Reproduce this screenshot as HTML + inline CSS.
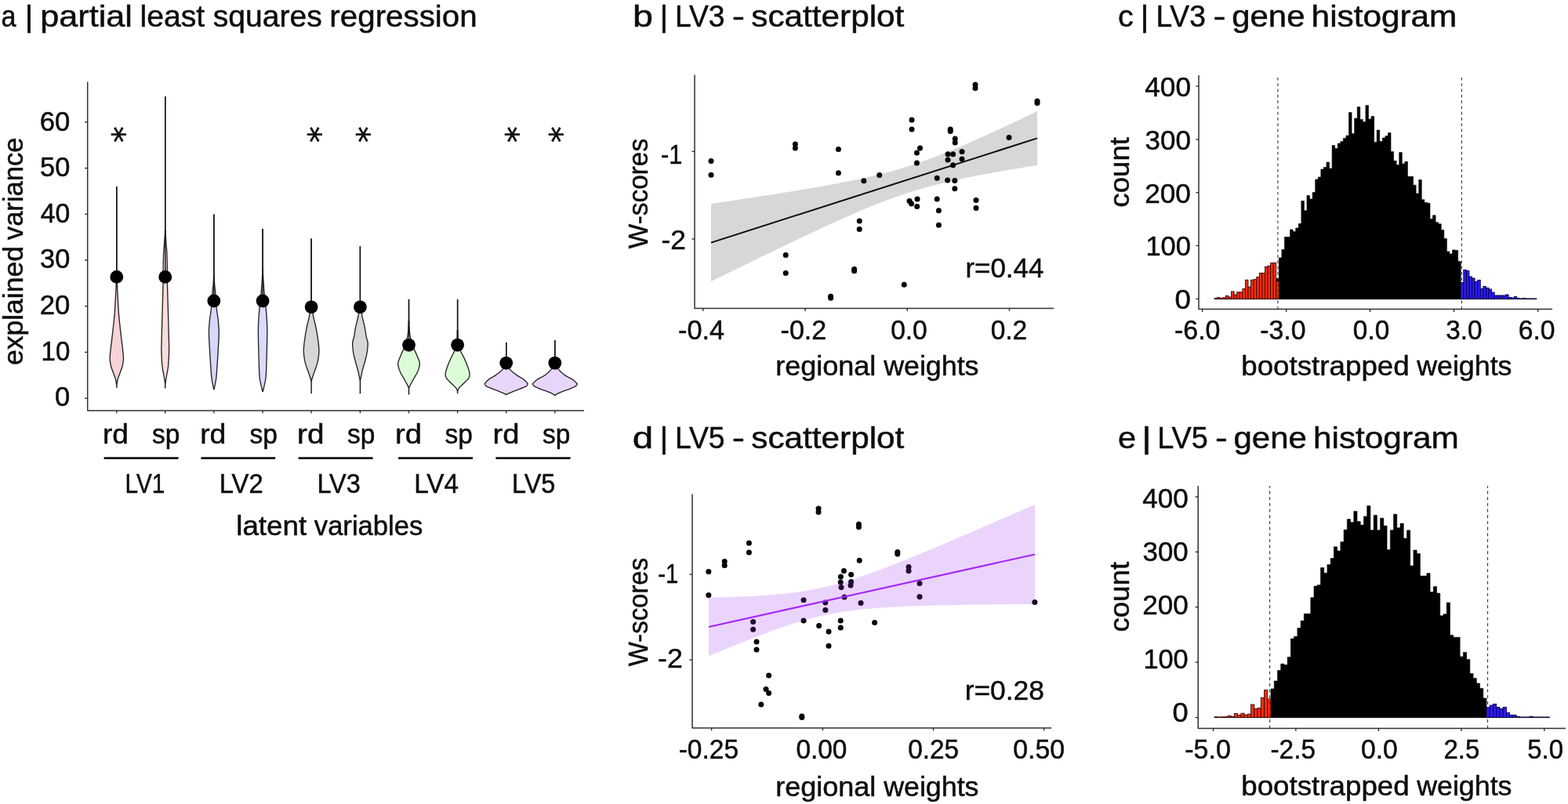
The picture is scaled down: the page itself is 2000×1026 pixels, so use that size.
<!DOCTYPE html>
<html lang="en"><head><meta charset="utf-8"><title>PLS regression figure</title>
<style>
html,body{margin:0;padding:0;background:#fff;}
body{width:2000px;height:1026px;overflow:hidden;font-family:"Liberation Sans",sans-serif;}
svg{display:block;}
text{white-space:pre;}
</style></head><body>
<svg width="2000" height="1026" viewBox="0 0 2000 1026">
<rect x="0" y="0" width="2000" height="1026" fill="#ffffff"/>
<text y="34.40" font-family="'Liberation Sans', sans-serif" font-size="39.0" fill="#0d0d0d" stroke="#0d0d0d" stroke-width="0.5"><tspan x="1.53" textLength="19.01" lengthAdjust="spacingAndGlyphs">a</tspan> <tspan x="31.47" textLength="11.04" lengthAdjust="spacingAndGlyphs">|</tspan> <tspan x="51.19" textLength="117.78" lengthAdjust="spacingAndGlyphs">partial</tspan> <tspan x="178.45" textLength="82.84" lengthAdjust="spacingAndGlyphs">least</tspan> <tspan x="271.83" textLength="139.05" lengthAdjust="spacingAndGlyphs">squares</tspan> <tspan x="420.38" textLength="188.21" lengthAdjust="spacingAndGlyphs">regression</tspan></text>
<text y="34.40" font-family="'Liberation Sans', sans-serif" font-size="39.0" fill="#0d0d0d" stroke="#0d0d0d" stroke-width="0.5"><tspan x="806.97" textLength="25.95" lengthAdjust="spacingAndGlyphs">b</tspan> <tspan x="841.59" textLength="10.72" lengthAdjust="spacingAndGlyphs">|</tspan> <tspan x="861.02" textLength="63.47" lengthAdjust="spacingAndGlyphs">LV3</tspan> <tspan x="933.80" textLength="16.31" lengthAdjust="spacingAndGlyphs">-</tspan> <tspan x="958.33" textLength="195.02" lengthAdjust="spacingAndGlyphs">scatterplot</tspan></text>
<text y="34.40" font-family="'Liberation Sans', sans-serif" font-size="39.0" fill="#0d0d0d" stroke="#0d0d0d" stroke-width="0.5"><tspan x="1426.02" textLength="19.77" lengthAdjust="spacingAndGlyphs">c</tspan> <tspan x="1454.47" textLength="11.04" lengthAdjust="spacingAndGlyphs">|</tspan> <tspan x="1474.42" textLength="63.47" lengthAdjust="spacingAndGlyphs">LV3</tspan> <tspan x="1547.63" textLength="16.04" lengthAdjust="spacingAndGlyphs">-</tspan> <tspan x="1571.22" textLength="93.25" lengthAdjust="spacingAndGlyphs">gene</tspan> <tspan x="1672.64" textLength="185.73" lengthAdjust="spacingAndGlyphs">histogram</tspan></text>
<text y="572.40" font-family="'Liberation Sans', sans-serif" font-size="39.0" fill="#0d0d0d" stroke="#0d0d0d" stroke-width="0.5"><tspan x="806.70" textLength="26.45" lengthAdjust="spacingAndGlyphs">d</tspan> <tspan x="841.59" textLength="10.72" lengthAdjust="spacingAndGlyphs">|</tspan> <tspan x="861.02" textLength="63.47" lengthAdjust="spacingAndGlyphs">LV5</tspan> <tspan x="933.80" textLength="16.31" lengthAdjust="spacingAndGlyphs">-</tspan> <tspan x="958.33" textLength="195.02" lengthAdjust="spacingAndGlyphs">scatterplot</tspan></text>
<text y="572.40" font-family="'Liberation Sans', sans-serif" font-size="39.0" fill="#0d0d0d" stroke="#0d0d0d" stroke-width="0.5"><tspan x="1425.94" textLength="23.08" lengthAdjust="spacingAndGlyphs">e</tspan> <tspan x="1456.32" textLength="12.34" lengthAdjust="spacingAndGlyphs">|</tspan> <tspan x="1476.27" textLength="64.55" lengthAdjust="spacingAndGlyphs">LV5</tspan> <tspan x="1550.05" textLength="15.90" lengthAdjust="spacingAndGlyphs">-</tspan> <tspan x="1573.52" textLength="93.35" lengthAdjust="spacingAndGlyphs">gene</tspan> <tspan x="1674.94" textLength="185.84" lengthAdjust="spacingAndGlyphs">histogram</tspan></text>
<path d="M111.70,104.60 L111.70,523.90 L745.00,523.90" fill="none" stroke="#303030" stroke-width="1.5" stroke-linejoin="round"/>
<line x1="108.10" y1="508.20" x2="111.70" y2="508.20" stroke="#262626" stroke-width="1.3" />
<text transform="translate(71.40,518.20) scale(0.9742,1.0000) translate(-1.42,0)" font-family="'Liberation Sans', sans-serif" font-size="35.5" fill="#0d0d0d" stroke="#0d0d0d" stroke-width="0.5">0</text>
<line x1="108.10" y1="449.47" x2="111.70" y2="449.47" stroke="#262626" stroke-width="1.3" />
<text transform="translate(55.00,459.62) scale(0.9296,1.0000) translate(-2.66,0)" font-family="'Liberation Sans', sans-serif" font-size="35.5" fill="#0d0d0d" stroke="#0d0d0d" stroke-width="0.5">10</text>
<line x1="108.10" y1="390.74" x2="111.70" y2="390.74" stroke="#262626" stroke-width="1.3" />
<text transform="translate(52.40,401.04) scale(0.9784,1.0000) translate(-1.78,0)" font-family="'Liberation Sans', sans-serif" font-size="35.5" fill="#0d0d0d" stroke="#0d0d0d" stroke-width="0.5">20</text>
<line x1="108.10" y1="332.01" x2="111.70" y2="332.01" stroke="#262626" stroke-width="1.3" />
<text transform="translate(52.40,342.46) scale(0.9689,1.0000) translate(-1.42,0)" font-family="'Liberation Sans', sans-serif" font-size="35.5" fill="#0d0d0d" stroke="#0d0d0d" stroke-width="0.5">30</text>
<line x1="108.10" y1="273.28" x2="111.70" y2="273.28" stroke="#262626" stroke-width="1.3" />
<text transform="translate(52.40,283.88) scale(0.9505,1.0000) translate(-0.71,0)" font-family="'Liberation Sans', sans-serif" font-size="35.5" fill="#0d0d0d" stroke="#0d0d0d" stroke-width="0.5">40</text>
<line x1="108.10" y1="214.55" x2="111.70" y2="214.55" stroke="#262626" stroke-width="1.3" />
<text transform="translate(52.40,225.30) scale(0.9689,1.0000) translate(-1.42,0)" font-family="'Liberation Sans', sans-serif" font-size="35.5" fill="#0d0d0d" stroke="#0d0d0d" stroke-width="0.5">50</text>
<line x1="108.10" y1="155.82" x2="111.70" y2="155.82" stroke="#262626" stroke-width="1.3" />
<text transform="translate(52.40,166.72) scale(0.9784,1.0000) translate(-1.78,0)" font-family="'Liberation Sans', sans-serif" font-size="35.5" fill="#0d0d0d" stroke="#0d0d0d" stroke-width="0.5">60</text>
<text transform="translate(29.40,0) rotate(-90)" y="0" font-family="'Liberation Sans', sans-serif" font-size="34.4" fill="#0d0d0d" stroke="#0d0d0d" stroke-width="0.5"><tspan x="-465.92" textLength="151.77" lengthAdjust="spacingAndGlyphs">explained</tspan> <tspan x="-306.17" textLength="130.73" lengthAdjust="spacingAndGlyphs">variance</tspan></text>
<line x1="148.80" y1="238.00" x2="148.80" y2="495.00" stroke="#111" stroke-width="1.4" />
<path d="M148.50,356.32 L148.50,356.82 L148.50,357.39 L148.50,358.12 L148.48,359.14 L148.39,360.55 L148.27,362.46 L148.13,365.04 L147.97,368.24 L147.79,371.83 L147.59,375.58 L147.40,379.26 L147.22,382.63 L147.05,385.71 L146.90,388.67 L146.74,391.57 L146.57,394.42 L146.38,397.28 L146.17,400.18 L145.92,403.10 L145.65,406.02 L145.35,408.95 L145.04,411.87 L144.73,414.80 L144.41,417.72 L144.09,420.68 L143.75,423.70 L143.40,426.71 L143.05,429.68 L142.72,432.54 L142.40,435.26 L142.09,437.87 L141.77,440.40 L141.47,442.83 L141.19,445.14 L140.94,447.30 L140.73,449.30 L140.56,451.06 L140.40,452.61 L140.29,454.01 L140.21,455.34 L140.18,456.67 L140.20,458.07 L140.29,459.53 L140.42,460.99 L140.60,462.46 L140.83,463.92 L141.11,465.38 L141.43,466.84 L141.83,468.32 L142.31,469.83 L142.84,471.34 L143.38,472.82 L143.92,474.25 L144.41,475.61 L144.89,476.91 L145.37,478.15 L145.84,479.34 L146.29,480.49 L146.70,481.58 L147.05,482.63 L147.33,483.64 L147.56,484.61 L147.75,485.54 L147.91,486.40 L148.05,487.19 L148.19,487.89 L148.30,488.52 L148.40,489.06 L148.48,489.54 L148.50,489.94 L148.50,490.27 L148.62,490.53 L148.98,490.53 L149.10,490.27 L149.10,489.94 L149.12,489.54 L149.20,489.06 L149.30,488.52 L149.41,487.89 L149.55,487.19 L149.69,486.40 L149.85,485.54 L150.04,484.61 L150.27,483.64 L150.55,482.63 L150.90,481.58 L151.31,480.49 L151.76,479.34 L152.23,478.15 L152.71,476.91 L153.19,475.61 L153.68,474.25 L154.22,472.82 L154.76,471.34 L155.29,469.83 L155.77,468.32 L156.17,466.84 L156.49,465.38 L156.77,463.92 L157.00,462.46 L157.18,460.99 L157.31,459.53 L157.40,458.07 L157.42,456.67 L157.39,455.34 L157.31,454.01 L157.20,452.61 L157.04,451.06 L156.87,449.30 L156.66,447.30 L156.41,445.14 L156.13,442.83 L155.83,440.40 L155.51,437.87 L155.20,435.26 L154.88,432.54 L154.55,429.68 L154.20,426.71 L153.85,423.70 L153.51,420.68 L153.19,417.72 L152.87,414.80 L152.56,411.87 L152.25,408.95 L151.95,406.02 L151.68,403.10 L151.43,400.18 L151.22,397.28 L151.03,394.42 L150.86,391.57 L150.70,388.67 L150.55,385.71 L150.38,382.63 L150.20,379.26 L150.01,375.58 L149.81,371.83 L149.63,368.24 L149.47,365.04 L149.33,362.46 L149.21,360.55 L149.12,359.14 L149.10,358.12 L149.10,357.39 L149.10,356.82 L149.10,356.32 Z" fill="#f5d3d6" stroke="#262222" stroke-width="1.35" stroke-linejoin="round"/>
<line x1="148.80" y1="238.00" x2="148.80" y2="353.40" stroke="#111" stroke-width="1.4" />
<circle cx="148.80" cy="353.40" r="8.4" fill="#000"/>
<line x1="148.80" y1="523.90" x2="148.80" y2="527.40" stroke="#262626" stroke-width="1.3" />
<line x1="210.75" y1="123.00" x2="210.75" y2="495.50" stroke="#111" stroke-width="1.4" />
<path d="M210.45,294.91 L210.45,296.44 L210.42,298.55 L210.25,301.05 L210.06,303.75 L209.87,306.45 L209.70,308.95 L209.52,311.25 L209.33,313.50 L209.14,315.75 L208.95,318.04 L208.79,320.44 L208.64,322.98 L208.53,325.65 L208.44,328.41 L208.37,331.26 L208.31,334.22 L208.26,337.31 L208.21,340.53 L208.17,343.74 L208.16,346.93 L208.16,350.23 L208.14,353.81 L208.11,357.84 L208.03,362.46 L207.90,367.86 L207.74,373.96 L207.55,380.49 L207.35,387.21 L207.15,393.86 L206.98,400.18 L206.81,406.42 L206.65,412.85 L206.48,419.20 L206.33,425.22 L206.20,430.66 L206.10,435.26 L206.02,438.78 L205.95,441.37 L205.90,443.38 L205.87,445.14 L205.88,447.00 L205.93,449.30 L206.01,452.10 L206.13,455.15 L206.29,458.29 L206.47,461.38 L206.67,464.28 L206.89,466.84 L207.14,469.04 L207.44,471.00 L207.75,472.76 L208.07,474.38 L208.37,475.90 L208.64,477.37 L208.89,478.77 L209.11,480.06 L209.32,481.26 L209.52,482.37 L209.70,483.41 L209.87,484.39 L210.03,485.32 L210.17,486.21 L210.30,487.02 L210.41,487.73 L210.45,488.33 L210.57,488.77 L210.93,488.77 L211.05,488.33 L211.09,487.73 L211.20,487.02 L211.33,486.21 L211.47,485.32 L211.63,484.39 L211.80,483.41 L211.98,482.37 L212.18,481.26 L212.39,480.06 L212.61,478.77 L212.86,477.37 L213.13,475.90 L213.43,474.38 L213.75,472.76 L214.06,471.00 L214.36,469.04 L214.61,466.84 L214.83,464.28 L215.03,461.38 L215.21,458.29 L215.37,455.15 L215.49,452.10 L215.57,449.30 L215.62,447.00 L215.63,445.14 L215.60,443.38 L215.55,441.37 L215.48,438.78 L215.40,435.26 L215.30,430.66 L215.17,425.22 L215.02,419.20 L214.85,412.85 L214.69,406.42 L214.52,400.18 L214.35,393.86 L214.15,387.21 L213.95,380.49 L213.76,373.96 L213.60,367.86 L213.47,362.46 L213.39,357.84 L213.36,353.81 L213.34,350.23 L213.34,346.93 L213.33,343.74 L213.29,340.53 L213.24,337.31 L213.19,334.22 L213.13,331.26 L213.06,328.41 L212.97,325.65 L212.86,322.98 L212.71,320.44 L212.55,318.04 L212.36,315.75 L212.17,313.50 L211.98,311.25 L211.80,308.95 L211.63,306.45 L211.44,303.75 L211.25,301.05 L211.08,298.55 L211.05,296.44 L211.05,294.91 Z" fill="#f9dcdc" stroke="#262222" stroke-width="1.35" stroke-linejoin="round"/>
<line x1="210.75" y1="123.00" x2="210.75" y2="353.40" stroke="#111" stroke-width="1.4" />
<circle cx="210.75" cy="353.40" r="8.4" fill="#000"/>
<line x1="210.75" y1="523.90" x2="210.75" y2="527.40" stroke="#262626" stroke-width="1.3" />
<line x1="272.85" y1="273.60" x2="272.85" y2="497.20" stroke="#111" stroke-width="1.4" />
<path d="M272.55,351.05 L272.55,352.18 L272.55,353.72 L272.53,355.55 L272.42,357.55 L272.29,359.60 L272.15,361.58 L271.98,363.44 L271.79,365.28 L271.58,367.17 L271.37,369.18 L271.14,371.39 L270.92,373.86 L270.70,376.71 L270.49,379.90 L270.27,383.29 L270.04,386.73 L269.79,390.06 L269.52,393.16 L269.19,395.99 L268.82,398.68 L268.44,401.27 L268.05,403.81 L267.70,406.36 L267.41,408.95 L267.16,411.54 L266.94,414.08 L266.74,416.62 L266.59,419.21 L266.49,421.90 L266.45,424.74 L266.48,427.77 L266.60,430.97 L266.76,434.28 L266.95,437.60 L267.15,440.88 L267.32,444.04 L267.49,447.06 L267.66,450.01 L267.83,452.92 L268.01,455.80 L268.19,458.68 L268.38,461.58 L268.57,464.60 L268.77,467.75 L268.98,470.90 L269.19,473.92 L269.40,476.71 L269.60,479.12 L269.80,481.09 L269.99,482.70 L270.18,484.06 L270.38,485.30 L270.59,486.53 L270.83,487.89 L271.13,489.46 L271.47,491.14 L271.83,492.83 L272.17,494.39 L272.47,495.71 L272.67,496.67 L273.03,496.67 L273.23,495.71 L273.53,494.39 L273.87,492.83 L274.23,491.14 L274.57,489.46 L274.87,487.89 L275.11,486.53 L275.32,485.30 L275.52,484.06 L275.71,482.70 L275.90,481.09 L276.10,479.12 L276.30,476.71 L276.51,473.92 L276.72,470.90 L276.93,467.75 L277.13,464.60 L277.32,461.58 L277.51,458.68 L277.69,455.80 L277.87,452.92 L278.04,450.01 L278.21,447.06 L278.38,444.04 L278.55,440.88 L278.75,437.60 L278.94,434.28 L279.10,430.97 L279.22,427.77 L279.25,424.74 L279.21,421.90 L279.11,419.21 L278.96,416.62 L278.76,414.08 L278.54,411.54 L278.29,408.95 L278.00,406.36 L277.65,403.81 L277.26,401.27 L276.88,398.68 L276.51,395.99 L276.18,393.16 L275.91,390.06 L275.66,386.73 L275.43,383.29 L275.21,379.90 L275.00,376.71 L274.78,373.86 L274.56,371.39 L274.33,369.18 L274.12,367.17 L273.91,365.28 L273.72,363.44 L273.55,361.58 L273.41,359.60 L273.28,357.55 L273.17,355.55 L273.15,353.72 L273.15,352.18 L273.15,351.05 Z" fill="#d6d8fc" stroke="#262222" stroke-width="1.35" stroke-linejoin="round"/>
<line x1="272.85" y1="273.60" x2="272.85" y2="384.00" stroke="#111" stroke-width="1.4" />
<circle cx="272.85" cy="384.00" r="8.4" fill="#000"/>
<line x1="272.85" y1="523.90" x2="272.85" y2="527.40" stroke="#262626" stroke-width="1.3" />
<line x1="335.10" y1="292.00" x2="335.10" y2="500.00" stroke="#111" stroke-width="1.4" />
<path d="M334.80,343.59 L334.80,345.20 L334.80,347.40 L334.70,350.02 L334.56,352.88 L334.41,355.80 L334.24,358.60 L334.07,361.33 L333.88,364.15 L333.67,367.04 L333.45,369.95 L333.21,372.86 L332.96,375.74 L332.67,378.50 L332.35,381.14 L332.01,383.78 L331.67,386.54 L331.34,389.54 L331.03,392.89 L330.72,396.61 L330.39,400.60 L330.07,404.82 L329.78,409.25 L329.56,413.86 L329.42,418.62 L329.38,423.65 L329.42,429.02 L329.53,434.56 L329.67,440.13 L329.82,445.59 L329.96,450.77 L330.08,455.86 L330.22,461.01 L330.37,466.05 L330.53,470.78 L330.72,475.04 L330.92,478.64 L331.14,481.42 L331.38,483.50 L331.64,485.10 L331.91,486.45 L332.21,487.79 L332.53,489.36 L332.90,491.22 L333.35,493.20 L333.81,495.17 L334.25,496.99 L334.62,498.53 L334.89,499.65 L335.31,499.65 L335.58,498.53 L335.95,496.99 L336.39,495.17 L336.85,493.20 L337.30,491.22 L337.67,489.36 L337.99,487.79 L338.29,486.45 L338.56,485.10 L338.82,483.50 L339.06,481.42 L339.28,478.64 L339.48,475.04 L339.67,470.78 L339.83,466.05 L339.98,461.01 L340.12,455.86 L340.24,450.77 L340.38,445.59 L340.53,440.13 L340.67,434.56 L340.78,429.02 L340.82,423.65 L340.78,418.62 L340.64,413.86 L340.42,409.25 L340.13,404.82 L339.81,400.60 L339.48,396.61 L339.17,392.89 L338.86,389.54 L338.53,386.54 L338.19,383.78 L337.85,381.14 L337.53,378.50 L337.24,375.74 L336.99,372.86 L336.75,369.95 L336.53,367.04 L336.32,364.15 L336.13,361.33 L335.96,358.60 L335.79,355.80 L335.64,352.88 L335.50,350.02 L335.40,347.40 L335.40,345.20 L335.40,343.59 Z" fill="#d9dbff" stroke="#262222" stroke-width="1.35" stroke-linejoin="round"/>
<line x1="335.10" y1="292.00" x2="335.10" y2="384.00" stroke="#111" stroke-width="1.4" />
<circle cx="335.10" cy="384.00" r="8.4" fill="#000"/>
<line x1="335.10" y1="523.90" x2="335.10" y2="527.40" stroke="#262626" stroke-width="1.3" />
<line x1="397.10" y1="304.60" x2="397.10" y2="502.30" stroke="#111" stroke-width="1.4" />
<path d="M396.80,384.32 L396.79,386.19 L396.53,388.77 L396.22,391.82 L395.85,395.12 L395.42,398.41 L394.96,401.47 L394.41,404.33 L393.77,407.18 L393.07,410.04 L392.37,412.90 L391.70,415.76 L391.10,418.62 L390.55,421.53 L390.02,424.49 L389.52,427.46 L389.07,430.37 L388.66,433.16 L388.31,435.77 L388.02,438.16 L387.76,440.37 L387.55,442.47 L387.41,444.50 L387.34,446.53 L387.35,448.63 L387.44,450.80 L387.62,452.99 L387.88,455.19 L388.19,457.36 L388.55,459.47 L388.95,461.49 L389.43,463.43 L389.98,465.30 L390.58,467.12 L391.21,468.87 L391.82,470.57 L392.38,472.21 L392.93,473.80 L393.47,475.34 L394.01,476.83 L394.51,478.24 L394.98,479.56 L395.39,480.78 L395.74,481.92 L396.05,483.01 L396.32,484.00 L396.55,484.87 L396.74,485.60 L396.89,486.14 L397.31,486.14 L397.46,485.60 L397.65,484.87 L397.88,484.00 L398.15,483.01 L398.46,481.92 L398.81,480.78 L399.22,479.56 L399.69,478.24 L400.19,476.83 L400.73,475.34 L401.27,473.80 L401.82,472.21 L402.38,470.57 L402.99,468.87 L403.62,467.12 L404.22,465.30 L404.77,463.43 L405.25,461.49 L405.65,459.47 L406.01,457.36 L406.32,455.19 L406.58,452.99 L406.76,450.80 L406.85,448.63 L406.86,446.53 L406.79,444.50 L406.65,442.47 L406.44,440.37 L406.18,438.16 L405.89,435.77 L405.54,433.16 L405.13,430.37 L404.68,427.46 L404.18,424.49 L403.65,421.53 L403.10,418.62 L402.50,415.76 L401.83,412.90 L401.13,410.04 L400.43,407.18 L399.79,404.33 L399.24,401.47 L398.78,398.41 L398.35,395.12 L397.98,391.82 L397.67,388.77 L397.41,386.19 L397.40,384.32 Z" fill="#d6d6d6" stroke="#262222" stroke-width="1.35" stroke-linejoin="round"/>
<line x1="397.10" y1="304.60" x2="397.10" y2="391.80" stroke="#111" stroke-width="1.4" />
<circle cx="397.10" cy="391.80" r="8.4" fill="#000"/>
<line x1="397.10" y1="523.90" x2="397.10" y2="527.40" stroke="#262626" stroke-width="1.3" />
<line x1="459.40" y1="314.00" x2="459.40" y2="502.30" stroke="#111" stroke-width="1.4" />
<path d="M459.10,384.32 L459.09,386.19 L458.83,388.77 L458.52,391.82 L458.15,395.12 L457.72,398.41 L457.26,401.47 L456.69,404.40 L456.03,407.42 L455.31,410.44 L454.59,413.38 L453.94,416.13 L453.40,418.62 L452.99,420.80 L452.68,422.75 L452.43,424.51 L452.20,426.16 L451.96,427.75 L451.68,429.34 L451.32,430.84 L450.91,432.19 L450.48,433.49 L450.10,434.81 L449.80,436.26 L449.65,437.91 L449.64,439.83 L449.75,441.96 L449.95,444.21 L450.21,446.48 L450.51,448.70 L450.83,450.77 L451.17,452.68 L451.56,454.50 L452.00,456.26 L452.46,458.00 L452.93,459.73 L453.40,461.49 L453.89,463.30 L454.41,465.14 L454.94,466.98 L455.46,468.79 L455.96,470.55 L456.40,472.21 L456.79,473.81 L457.16,475.38 L457.50,476.90 L457.80,478.32 L458.08,479.63 L458.33,480.78 L458.54,481.79 L458.73,482.69 L458.88,483.46 L459.00,484.12 L459.10,484.65 L459.19,485.07 L459.61,485.07 L459.70,484.65 L459.80,484.12 L459.92,483.46 L460.07,482.69 L460.26,481.79 L460.47,480.78 L460.72,479.63 L461.00,478.32 L461.30,476.90 L461.64,475.38 L462.01,473.81 L462.40,472.21 L462.84,470.55 L463.34,468.79 L463.86,466.98 L464.39,465.14 L464.91,463.30 L465.40,461.49 L465.87,459.73 L466.34,458.00 L466.80,456.26 L467.24,454.50 L467.63,452.68 L467.97,450.77 L468.29,448.70 L468.59,446.48 L468.85,444.21 L469.05,441.96 L469.16,439.83 L469.15,437.91 L469.00,436.26 L468.70,434.81 L468.32,433.49 L467.89,432.19 L467.48,430.84 L467.12,429.34 L466.84,427.75 L466.60,426.16 L466.37,424.51 L466.12,422.75 L465.81,420.80 L465.40,418.62 L464.86,416.13 L464.21,413.38 L463.49,410.44 L462.77,407.42 L462.11,404.40 L461.54,401.47 L461.08,398.41 L460.65,395.12 L460.28,391.82 L459.97,388.77 L459.71,386.19 L459.70,384.32 Z" fill="#d6d6d6" stroke="#262222" stroke-width="1.35" stroke-linejoin="round"/>
<line x1="459.40" y1="314.00" x2="459.40" y2="391.80" stroke="#111" stroke-width="1.4" />
<circle cx="459.40" cy="391.80" r="8.4" fill="#000"/>
<line x1="459.40" y1="523.90" x2="459.40" y2="527.40" stroke="#262626" stroke-width="1.3" />
<line x1="521.50" y1="382.00" x2="521.50" y2="503.70" stroke="#111" stroke-width="1.4" />
<path d="M521.20,410.04 L521.20,411.49 L521.20,413.54 L521.10,415.94 L520.96,418.46 L520.81,420.86 L520.64,422.90 L520.47,424.58 L520.29,426.08 L520.09,427.46 L519.87,428.78 L519.63,430.10 L519.36,431.48 L519.07,432.91 L518.77,434.34 L518.45,435.77 L518.09,437.20 L517.68,438.62 L517.21,440.05 L516.67,441.48 L516.05,442.91 L515.38,444.34 L514.69,445.77 L514.00,447.20 L513.35,448.63 L512.72,450.07 L512.06,451.53 L511.42,452.98 L510.80,454.42 L510.22,455.84 L509.71,457.20 L509.22,458.49 L508.74,459.70 L508.30,460.89 L507.94,462.09 L507.72,463.34 L507.67,464.71 L507.82,466.20 L508.14,467.80 L508.59,469.46 L509.13,471.14 L509.73,472.78 L510.35,474.35 L511.02,475.84 L511.77,477.29 L512.58,478.71 L513.42,480.11 L514.26,481.51 L515.07,482.93 L515.89,484.42 L516.76,485.98 L517.63,487.55 L518.45,489.04 L519.19,490.38 L519.79,491.50 L520.24,492.38 L520.58,493.09 L520.83,493.64 L521.02,494.08 L521.16,494.43 L521.29,494.72 L521.71,494.72 L521.84,494.43 L521.98,494.08 L522.17,493.64 L522.42,493.09 L522.76,492.38 L523.21,491.50 L523.81,490.38 L524.55,489.04 L525.37,487.55 L526.24,485.98 L527.11,484.42 L527.93,482.93 L528.74,481.51 L529.58,480.11 L530.42,478.71 L531.23,477.29 L531.98,475.84 L532.65,474.35 L533.27,472.78 L533.87,471.14 L534.41,469.46 L534.86,467.80 L535.18,466.20 L535.33,464.71 L535.28,463.34 L535.06,462.09 L534.70,460.89 L534.26,459.70 L533.78,458.49 L533.29,457.20 L532.78,455.84 L532.20,454.42 L531.58,452.98 L530.94,451.53 L530.28,450.07 L529.65,448.63 L529.00,447.20 L528.31,445.77 L527.62,444.34 L526.95,442.91 L526.33,441.48 L525.79,440.05 L525.32,438.62 L524.91,437.20 L524.55,435.77 L524.23,434.34 L523.93,432.91 L523.64,431.48 L523.37,430.10 L523.13,428.78 L522.91,427.46 L522.71,426.08 L522.53,424.58 L522.36,422.90 L522.19,420.86 L522.04,418.46 L521.90,415.94 L521.80,413.54 L521.80,411.49 L521.80,410.04 Z" fill="#dcfcd8" stroke="#262222" stroke-width="1.35" stroke-linejoin="round"/>
<line x1="521.50" y1="382.00" x2="521.50" y2="440.30" stroke="#111" stroke-width="1.4" />
<circle cx="521.50" cy="440.30" r="8.4" fill="#000"/>
<line x1="521.50" y1="523.90" x2="521.50" y2="527.40" stroke="#262626" stroke-width="1.3" />
<line x1="583.60" y1="382.20" x2="583.60" y2="502.30" stroke="#111" stroke-width="1.4" />
<path d="M583.30,421.45 L583.30,422.67 L583.30,424.39 L583.30,426.42 L583.21,428.55 L583.10,430.60 L582.98,432.36 L582.86,433.84 L582.75,435.19 L582.62,436.46 L582.47,437.68 L582.28,438.90 L582.04,440.16 L581.76,441.44 L581.45,442.70 L581.11,443.96 L580.71,445.24 L580.24,446.57 L579.70,447.95 L579.05,449.42 L578.29,450.96 L577.46,452.53 L576.61,454.13 L575.79,455.73 L575.03,457.31 L574.32,458.87 L573.63,460.43 L572.96,461.99 L572.32,463.55 L571.70,465.10 L571.13,466.66 L570.55,468.26 L569.97,469.90 L569.42,471.54 L568.94,473.13 L568.56,474.64 L568.32,476.02 L568.20,477.24 L568.18,478.33 L568.25,479.33 L568.45,480.29 L568.78,481.25 L569.26,482.25 L569.93,483.29 L570.80,484.33 L571.81,485.37 L572.89,486.41 L573.98,487.45 L575.03,488.49 L576.09,489.57 L577.23,490.69 L578.39,491.80 L579.49,492.88 L580.47,493.87 L581.26,494.73 L581.84,495.45 L582.27,496.08 L582.57,496.62 L582.79,497.08 L582.96,497.49 L583.13,497.85 L583.28,498.14 L583.30,498.35 L583.30,498.51 L583.30,498.62 L583.30,498.70 L583.44,498.78 L583.76,498.78 L583.90,498.70 L583.90,498.62 L583.90,498.51 L583.90,498.35 L583.92,498.14 L584.07,497.85 L584.24,497.49 L584.41,497.08 L584.63,496.62 L584.93,496.08 L585.36,495.45 L585.94,494.73 L586.73,493.87 L587.71,492.88 L588.81,491.80 L589.97,490.69 L591.11,489.57 L592.17,488.49 L593.22,487.45 L594.31,486.41 L595.39,485.37 L596.40,484.33 L597.27,483.29 L597.94,482.25 L598.42,481.25 L598.75,480.29 L598.95,479.33 L599.02,478.33 L599.00,477.24 L598.88,476.02 L598.64,474.64 L598.26,473.13 L597.78,471.54 L597.23,469.90 L596.65,468.26 L596.07,466.66 L595.50,465.10 L594.88,463.55 L594.24,461.99 L593.57,460.43 L592.88,458.87 L592.17,457.31 L591.41,455.73 L590.59,454.13 L589.74,452.53 L588.91,450.96 L588.15,449.42 L587.50,447.95 L586.96,446.57 L586.49,445.24 L586.09,443.96 L585.75,442.70 L585.44,441.44 L585.16,440.16 L584.92,438.90 L584.73,437.68 L584.58,436.46 L584.45,435.19 L584.34,433.84 L584.22,432.36 L584.10,430.60 L583.99,428.55 L583.90,426.42 L583.90,424.39 L583.90,422.67 L583.90,421.45 Z" fill="#dcfcd8" stroke="#262222" stroke-width="1.35" stroke-linejoin="round"/>
<line x1="583.60" y1="382.20" x2="583.60" y2="440.30" stroke="#111" stroke-width="1.4" />
<circle cx="583.60" cy="440.30" r="8.4" fill="#000"/>
<line x1="583.60" y1="523.90" x2="583.60" y2="527.40" stroke="#262626" stroke-width="1.3" />
<line x1="645.70" y1="437.00" x2="645.70" y2="503.90" stroke="#111" stroke-width="1.4" />
<path d="M645.40,457.31 L645.40,457.97 L645.40,458.87 L645.25,459.94 L645.05,461.12 L644.79,462.34 L644.45,463.55 L644.08,464.75 L643.70,466.03 L643.25,467.35 L642.69,468.68 L641.96,470.02 L641.02,471.34 L639.79,472.68 L638.29,474.05 L636.62,475.43 L634.89,476.77 L633.21,478.02 L631.67,479.14 L630.24,480.10 L628.84,480.93 L627.48,481.67 L626.18,482.37 L624.97,483.07 L623.87,483.81 L622.87,484.63 L621.93,485.48 L621.09,486.33 L620.34,487.14 L619.70,487.87 L619.20,488.49 L618.82,488.95 L618.58,489.29 L618.45,489.54 L618.42,489.77 L618.47,490.03 L618.57,490.36 L618.71,490.77 L618.88,491.22 L619.14,491.69 L619.51,492.17 L620.03,492.67 L620.75,493.17 L621.73,493.67 L622.94,494.18 L624.30,494.71 L625.74,495.24 L627.19,495.76 L628.55,496.29 L629.85,496.81 L631.16,497.33 L632.47,497.85 L633.77,498.37 L635.06,498.88 L636.35,499.40 L637.68,499.95 L639.07,500.51 L640.46,501.08 L641.77,501.62 L642.91,502.11 L643.83,502.52 L644.48,502.85 L644.91,503.12 L645.19,503.34 L645.37,503.52 L645.40,503.66 L645.62,503.77 L645.78,503.77 L646.00,503.66 L646.03,503.52 L646.21,503.34 L646.49,503.12 L646.92,502.85 L647.57,502.52 L648.49,502.11 L649.63,501.62 L650.94,501.08 L652.33,500.51 L653.72,499.95 L655.05,499.40 L656.34,498.88 L657.63,498.37 L658.93,497.85 L660.24,497.33 L661.55,496.81 L662.85,496.29 L664.21,495.76 L665.66,495.24 L667.10,494.71 L668.46,494.18 L669.67,493.67 L670.65,493.17 L671.37,492.67 L671.89,492.17 L672.26,491.69 L672.52,491.22 L672.69,490.77 L672.83,490.36 L672.93,490.03 L672.98,489.77 L672.95,489.54 L672.82,489.29 L672.58,488.95 L672.20,488.49 L671.70,487.87 L671.06,487.14 L670.31,486.33 L669.47,485.48 L668.53,484.63 L667.53,483.81 L666.43,483.07 L665.22,482.37 L663.92,481.67 L662.56,480.93 L661.16,480.10 L659.73,479.14 L658.19,478.02 L656.51,476.77 L654.78,475.43 L653.11,474.05 L651.61,472.68 L650.38,471.34 L649.44,470.02 L648.71,468.68 L648.15,467.35 L647.70,466.03 L647.32,464.75 L646.95,463.55 L646.61,462.34 L646.35,461.12 L646.15,459.94 L646.00,458.87 L646.00,457.97 L646.00,457.31 Z" fill="#e8d6fa" stroke="#262222" stroke-width="1.35" stroke-linejoin="round"/>
<line x1="645.70" y1="437.00" x2="645.70" y2="463.30" stroke="#111" stroke-width="1.4" />
<circle cx="645.70" cy="463.30" r="8.4" fill="#000"/>
<line x1="645.70" y1="523.90" x2="645.70" y2="527.40" stroke="#262626" stroke-width="1.3" />
<line x1="707.80" y1="434.00" x2="707.80" y2="505.00" stroke="#111" stroke-width="1.4" />
<path d="M707.50,457.31 L707.50,457.97 L707.50,458.87 L707.35,459.94 L707.15,461.12 L706.89,462.34 L706.55,463.55 L706.17,464.75 L705.77,466.03 L705.30,467.35 L704.73,468.68 L704.02,470.02 L703.12,471.34 L701.99,472.68 L700.65,474.05 L699.16,475.43 L697.60,476.77 L696.04,478.02 L694.55,479.14 L693.08,480.10 L691.57,480.93 L690.07,481.67 L688.60,482.37 L687.22,483.07 L685.97,483.81 L684.83,484.63 L683.76,485.48 L682.77,486.33 L681.88,487.14 L681.13,487.87 L680.52,488.49 L680.06,488.95 L679.74,489.29 L679.55,489.54 L679.47,489.77 L679.49,490.03 L679.58,490.36 L679.75,490.77 L679.99,491.22 L680.33,491.69 L680.78,492.17 L681.36,492.67 L682.08,493.17 L682.96,493.67 L684.02,494.18 L685.20,494.71 L686.47,495.24 L687.78,495.76 L689.09,496.29 L690.43,496.80 L691.83,497.30 L693.28,497.80 L694.75,498.31 L696.22,498.84 L697.67,499.40 L699.18,500.04 L700.79,500.73 L702.40,501.45 L703.91,502.15 L705.22,502.78 L706.24,503.30 L706.92,503.72 L707.31,504.05 L707.50,504.33 L707.50,504.54 L707.50,504.72 L707.72,504.86 L707.88,504.86 L708.10,504.72 L708.10,504.54 L708.10,504.33 L708.29,504.05 L708.68,503.72 L709.36,503.30 L710.38,502.78 L711.69,502.15 L713.20,501.45 L714.81,500.73 L716.42,500.04 L717.93,499.40 L719.38,498.84 L720.85,498.31 L722.32,497.80 L723.77,497.30 L725.17,496.80 L726.51,496.29 L727.82,495.76 L729.13,495.24 L730.40,494.71 L731.58,494.18 L732.64,493.67 L733.52,493.17 L734.24,492.67 L734.82,492.17 L735.27,491.69 L735.61,491.22 L735.85,490.77 L736.02,490.36 L736.11,490.03 L736.13,489.77 L736.05,489.54 L735.86,489.29 L735.54,488.95 L735.08,488.49 L734.47,487.87 L733.72,487.14 L732.83,486.33 L731.84,485.48 L730.77,484.63 L729.63,483.81 L728.38,483.07 L727.00,482.37 L725.53,481.67 L724.03,480.93 L722.52,480.10 L721.05,479.14 L719.56,478.02 L718.00,476.77 L716.44,475.43 L714.95,474.05 L713.61,472.68 L712.48,471.34 L711.58,470.02 L710.87,468.68 L710.30,467.35 L709.83,466.03 L709.43,464.75 L709.05,463.55 L708.71,462.34 L708.45,461.12 L708.25,459.94 L708.10,458.87 L708.10,457.97 L708.10,457.31 Z" fill="#e8d6fa" stroke="#262222" stroke-width="1.35" stroke-linejoin="round"/>
<line x1="707.80" y1="434.00" x2="707.80" y2="463.30" stroke="#111" stroke-width="1.4" />
<circle cx="707.80" cy="463.30" r="8.4" fill="#000"/>
<line x1="707.80" y1="523.90" x2="707.80" y2="527.40" stroke="#262626" stroke-width="1.3" />
<text transform="translate(150.90,171.70) rotate(90) translate(-10.38,21.16)" font-family="'DejaVu Sans', sans-serif" font-size="41.5" fill="#0d0d0d" stroke="#0d0d0d" stroke-width="0.6" stroke-linejoin="round">*</text>
<text transform="translate(400.90,171.70) rotate(90) translate(-10.38,21.16)" font-family="'DejaVu Sans', sans-serif" font-size="41.5" fill="#0d0d0d" stroke="#0d0d0d" stroke-width="0.6" stroke-linejoin="round">*</text>
<text transform="translate(463.10,171.70) rotate(90) translate(-10.38,21.16)" font-family="'DejaVu Sans', sans-serif" font-size="41.5" fill="#0d0d0d" stroke="#0d0d0d" stroke-width="0.6" stroke-linejoin="round">*</text>
<text transform="translate(652.70,171.70) rotate(90) translate(-10.38,21.16)" font-family="'DejaVu Sans', sans-serif" font-size="41.5" fill="#0d0d0d" stroke="#0d0d0d" stroke-width="0.6" stroke-linejoin="round">*</text>
<text transform="translate(708.70,171.70) rotate(90) translate(-10.38,21.16)" font-family="'DejaVu Sans', sans-serif" font-size="41.5" fill="#0d0d0d" stroke="#0d0d0d" stroke-width="0.6" stroke-linejoin="round">*</text>
<text transform="translate(133.40,565.60) scale(1.0786,1.0000) translate(-2.24,0)" font-family="'Liberation Sans', sans-serif" font-size="34.4" fill="#0d0d0d" stroke="#0d0d0d" stroke-width="0.5">rd</text>
<text transform="translate(257.60,565.60) scale(1.0863,1.0000) translate(-2.24,0)" font-family="'Liberation Sans', sans-serif" font-size="34.4" fill="#0d0d0d" stroke="#0d0d0d" stroke-width="0.5">rd</text>
<text transform="translate(381.60,565.60) scale(1.1245,1.0000) translate(-2.24,0)" font-family="'Liberation Sans', sans-serif" font-size="34.4" fill="#0d0d0d" stroke="#0d0d0d" stroke-width="0.5">rd</text>
<text transform="translate(506.60,565.60) scale(1.1092,1.0000) translate(-2.24,0)" font-family="'Liberation Sans', sans-serif" font-size="34.4" fill="#0d0d0d" stroke="#0d0d0d" stroke-width="0.5">rd</text>
<text transform="translate(631.00,565.60) scale(1.1092,1.0000) translate(-2.24,0)" font-family="'Liberation Sans', sans-serif" font-size="34.4" fill="#0d0d0d" stroke="#0d0d0d" stroke-width="0.5">rd</text>
<text transform="translate(195.00,565.60) scale(0.9739,1.0000) translate(-1.03,0)" font-family="'Liberation Sans', sans-serif" font-size="34.4" fill="#0d0d0d" stroke="#0d0d0d" stroke-width="0.5">sp</text>
<text transform="translate(319.40,565.60) scale(0.9739,1.0000) translate(-1.03,0)" font-family="'Liberation Sans', sans-serif" font-size="34.4" fill="#0d0d0d" stroke="#0d0d0d" stroke-width="0.5">sp</text>
<text transform="translate(444.00,565.60) scale(0.9739,1.0000) translate(-1.03,0)" font-family="'Liberation Sans', sans-serif" font-size="34.4" fill="#0d0d0d" stroke="#0d0d0d" stroke-width="0.5">sp</text>
<text transform="translate(568.60,565.60) scale(0.9739,1.0000) translate(-1.03,0)" font-family="'Liberation Sans', sans-serif" font-size="34.4" fill="#0d0d0d" stroke="#0d0d0d" stroke-width="0.5">sp</text>
<text transform="translate(693.00,565.60) scale(0.9739,1.0000) translate(-1.03,0)" font-family="'Liberation Sans', sans-serif" font-size="34.4" fill="#0d0d0d" stroke="#0d0d0d" stroke-width="0.5">sp</text>
<line x1="132.60" y1="584.60" x2="227.60" y2="584.60" stroke="#111" stroke-width="2.9" />
<line x1="256.40" y1="584.60" x2="351.20" y2="584.60" stroke="#111" stroke-width="2.9" />
<line x1="380.60" y1="584.60" x2="475.60" y2="584.60" stroke="#111" stroke-width="2.9" />
<line x1="508.00" y1="584.60" x2="603.00" y2="584.60" stroke="#111" stroke-width="2.9" />
<line x1="632.40" y1="584.60" x2="727.60" y2="584.60" stroke="#111" stroke-width="2.9" />
<text transform="translate(162.00,628.50) scale(0.8379,1.0000) translate(-2.84,0)" font-family="'Liberation Sans', sans-serif" font-size="35.5" fill="#0d0d0d" stroke="#0d0d0d" stroke-width="0.5">LV1</text>
<text transform="translate(282.40,628.50) scale(0.9229,1.0000) translate(-2.84,0)" font-family="'Liberation Sans', sans-serif" font-size="35.5" fill="#0d0d0d" stroke="#0d0d0d" stroke-width="0.5">LV2</text>
<text transform="translate(407.00,628.50) scale(0.9135,1.0000) translate(-2.84,0)" font-family="'Liberation Sans', sans-serif" font-size="35.5" fill="#0d0d0d" stroke="#0d0d0d" stroke-width="0.5">LV3</text>
<text transform="translate(531.00,628.50) scale(0.9360,1.0000) translate(-2.84,0)" font-family="'Liberation Sans', sans-serif" font-size="35.5" fill="#0d0d0d" stroke="#0d0d0d" stroke-width="0.5">LV4</text>
<text transform="translate(655.60,628.50) scale(0.9135,1.0000) translate(-2.84,0)" font-family="'Liberation Sans', sans-serif" font-size="35.5" fill="#0d0d0d" stroke="#0d0d0d" stroke-width="0.5">LV5</text>
<text y="682.60" font-family="'Liberation Sans', sans-serif" font-size="34.4" fill="#0d0d0d" stroke="#0d0d0d" stroke-width="0.5"><tspan x="301.21" textLength="90.02" lengthAdjust="spacingAndGlyphs">latent</tspan> <tspan x="400.83" textLength="138.46" lengthAdjust="spacingAndGlyphs">variables</tspan></text>
<path d="M907.0,260.0 L913.9,259.0 L920.9,257.9 L927.8,256.9 L934.7,255.9 L941.7,254.8 L948.6,253.8 L955.5,252.8 L962.5,251.7 L969.4,250.6 L976.3,249.6 L983.3,248.5 L990.2,247.4 L997.1,246.3 L1004.1,245.2 L1011.0,244.1 L1017.9,242.9 L1024.9,241.8 L1031.8,240.6 L1038.7,239.4 L1045.7,238.2 L1052.6,237.0 L1059.5,235.7 L1066.5,234.4 L1073.4,233.1 L1080.3,231.7 L1087.3,230.3 L1094.2,228.9 L1101.1,227.4 L1108.1,225.8 L1115.0,224.2 L1121.9,222.5 L1128.9,220.7 L1135.8,218.9 L1142.7,216.9 L1149.7,214.9 L1156.6,212.8 L1163.5,210.6 L1170.5,208.2 L1177.4,205.8 L1184.3,203.3 L1191.3,200.7 L1198.2,198.1 L1205.1,195.3 L1212.1,192.5 L1219.0,189.6 L1225.9,186.7 L1232.9,183.7 L1239.8,180.6 L1246.7,177.6 L1253.7,174.4 L1260.6,171.3 L1267.5,168.1 L1274.5,164.9 L1281.4,161.7 L1288.3,158.4 L1295.3,155.2 L1302.2,151.9 L1309.1,148.6 L1316.1,145.3 L1323.0,141.9 L1323.0,210.9 L1316.1,212.0 L1309.1,213.1 L1302.2,214.2 L1295.3,215.4 L1288.3,216.6 L1281.4,217.8 L1274.5,219.0 L1267.5,220.2 L1260.6,221.5 L1253.7,222.8 L1246.7,224.1 L1239.8,225.4 L1232.9,226.8 L1225.9,228.3 L1219.0,229.8 L1212.1,231.3 L1205.1,233.0 L1198.2,234.7 L1191.3,236.4 L1184.3,238.3 L1177.4,240.2 L1170.5,242.2 L1163.5,244.4 L1156.6,246.6 L1149.7,248.9 L1142.7,251.3 L1135.8,253.8 L1128.9,256.4 L1121.9,259.1 L1115.0,261.8 L1108.1,264.6 L1101.1,267.5 L1094.2,270.4 L1087.3,273.4 L1080.3,276.5 L1073.4,279.6 L1066.5,282.7 L1059.5,285.8 L1052.6,289.0 L1045.7,292.2 L1038.7,295.4 L1031.8,298.7 L1024.9,302.0 L1017.9,305.2 L1011.0,308.5 L1004.1,311.9 L997.1,315.2 L990.2,318.5 L983.3,321.9 L976.3,325.2 L969.4,328.6 L962.5,332.0 L955.5,335.4 L948.6,338.8 L941.7,342.2 L934.7,345.6 L927.8,349.0 L920.9,352.4 L913.9,355.8 L907.0,359.2 Z" fill="#d7d7d7"/>
<line x1="907.00" y1="309.60" x2="1323.00" y2="176.40" stroke="#0a0a0a" stroke-width="2.0" />
<circle cx="907.0" cy="205.4" r="3.5" fill="#050505"/>
<circle cx="907.0" cy="223.2" r="3.5" fill="#050505"/>
<circle cx="1014.4" cy="184.0" r="3.5" fill="#050505"/>
<circle cx="1014.4" cy="189.0" r="3.5" fill="#050505"/>
<circle cx="1069.4" cy="190.4" r="3.5" fill="#050505"/>
<circle cx="1069.4" cy="220.8" r="3.5" fill="#050505"/>
<circle cx="1101.8" cy="230.8" r="3.5" fill="#050505"/>
<circle cx="1121.7" cy="223.6" r="3.5" fill="#050505"/>
<circle cx="1163.0" cy="153.0" r="3.5" fill="#050505"/>
<circle cx="1163.0" cy="165.0" r="3.5" fill="#050505"/>
<circle cx="1173.5" cy="189.0" r="3.5" fill="#050505"/>
<circle cx="1169.4" cy="195.0" r="3.5" fill="#050505"/>
<circle cx="1169.4" cy="208.0" r="3.5" fill="#050505"/>
<circle cx="1170.0" cy="254.0" r="3.5" fill="#050505"/>
<circle cx="1160.0" cy="256.4" r="3.5" fill="#050505"/>
<circle cx="1162.5" cy="260.0" r="3.5" fill="#050505"/>
<circle cx="1169.7" cy="263.4" r="3.5" fill="#050505"/>
<circle cx="1096.2" cy="282.0" r="3.5" fill="#050505"/>
<circle cx="1096.2" cy="292.4" r="3.5" fill="#050505"/>
<circle cx="1002.2" cy="325.6" r="3.5" fill="#050505"/>
<circle cx="1002.2" cy="348.6" r="3.5" fill="#050505"/>
<circle cx="1089.6" cy="343.4" r="3.5" fill="#050505"/>
<circle cx="1089.6" cy="345.8" r="3.5" fill="#050505"/>
<circle cx="1153.2" cy="363.2" r="3.5" fill="#050505"/>
<circle cx="1059.6" cy="378.2" r="3.5" fill="#050505"/>
<circle cx="1059.6" cy="380.2" r="3.5" fill="#050505"/>
<circle cx="1244.0" cy="108.0" r="3.5" fill="#050505"/>
<circle cx="1244.0" cy="112.4" r="3.5" fill="#050505"/>
<circle cx="1323.0" cy="129.0" r="3.5" fill="#050505"/>
<circle cx="1323.0" cy="131.6" r="3.5" fill="#050505"/>
<circle cx="1212.2" cy="165.0" r="3.5" fill="#050505"/>
<circle cx="1212.2" cy="167.4" r="3.5" fill="#050505"/>
<circle cx="1218.2" cy="177.0" r="3.5" fill="#050505"/>
<circle cx="1218.2" cy="182.0" r="3.5" fill="#050505"/>
<circle cx="1287.0" cy="175.6" r="3.5" fill="#050505"/>
<circle cx="1209.0" cy="196.8" r="3.5" fill="#050505"/>
<circle cx="1215.6" cy="196.8" r="3.5" fill="#050505"/>
<circle cx="1227.0" cy="193.6" r="3.5" fill="#050505"/>
<circle cx="1209.0" cy="204.0" r="3.5" fill="#050505"/>
<circle cx="1227.0" cy="203.0" r="3.5" fill="#050505"/>
<circle cx="1215.6" cy="210.8" r="3.5" fill="#050505"/>
<circle cx="1195.2" cy="227.2" r="3.5" fill="#050505"/>
<circle cx="1208.6" cy="230.0" r="3.5" fill="#050505"/>
<circle cx="1217.8" cy="230.6" r="3.5" fill="#050505"/>
<circle cx="1217.8" cy="240.8" r="3.5" fill="#050505"/>
<circle cx="1195.2" cy="254.0" r="3.5" fill="#050505"/>
<circle cx="1245.0" cy="255.4" r="3.5" fill="#050505"/>
<circle cx="1245.0" cy="265.4" r="3.5" fill="#050505"/>
<circle cx="1197.4" cy="268.8" r="3.5" fill="#050505"/>
<circle cx="1197.4" cy="287.2" r="3.5" fill="#050505"/>
<path d="M886.00,95.60 L886.00,393.40 L1344.00,393.40" fill="none" stroke="#303030" stroke-width="1.5" stroke-linejoin="round"/>
<line x1="882.40" y1="193.40" x2="886.00" y2="193.40" stroke="#262626" stroke-width="1.3" />
<line x1="882.40" y1="305.00" x2="886.00" y2="305.00" stroke="#262626" stroke-width="1.3" />
<text transform="translate(844.40,208.60) scale(0.8662,1.0000) translate(-1.60,0)" font-family="'Liberation Sans', sans-serif" font-size="35.5" fill="#0d0d0d" stroke="#0d0d0d" stroke-width="0.5">-1</text>
<text transform="translate(845.00,318.00) scale(0.9921,1.0000) translate(-1.60,0)" font-family="'Liberation Sans', sans-serif" font-size="35.5" fill="#0d0d0d" stroke="#0d0d0d" stroke-width="0.5">-2</text>
<line x1="896.80" y1="393.40" x2="896.80" y2="396.90" stroke="#262626" stroke-width="1.3" />
<line x1="1027.00" y1="393.40" x2="1027.00" y2="396.90" stroke="#262626" stroke-width="1.3" />
<line x1="1157.30" y1="393.40" x2="1157.30" y2="396.90" stroke="#262626" stroke-width="1.3" />
<line x1="1287.50" y1="393.40" x2="1287.50" y2="396.90" stroke="#262626" stroke-width="1.3" />
<text transform="translate(826.00,317.00) rotate(-90) scale(0.9702,1.0000) translate(-0.17,0)" font-family="'Liberation Sans', sans-serif" font-size="34.4" fill="#0d0d0d" stroke="#0d0d0d" stroke-width="0.5">W-scores</text>
<text transform="translate(1233.70,354.00) scale(0.9831,1.0000) translate(-2.31,0)" font-family="'Liberation Sans', sans-serif" font-size="35.5" fill="#0d0d0d" stroke="#0d0d0d" stroke-width="0.5">r=0.44</text>
<circle cx="1044.0" cy="649.0" r="3.5" fill="#050505"/>
<circle cx="1044.0" cy="653.6" r="3.5" fill="#050505"/>
<circle cx="955.4" cy="693.0" r="3.5" fill="#050505"/>
<circle cx="955.4" cy="705.0" r="3.5" fill="#050505"/>
<circle cx="924.2" cy="716.4" r="3.5" fill="#050505"/>
<circle cx="924.2" cy="721.6" r="3.5" fill="#050505"/>
<circle cx="903.8" cy="729.6" r="3.5" fill="#050505"/>
<circle cx="903.8" cy="759.6" r="3.5" fill="#050505"/>
<circle cx="1076.4" cy="728.4" r="3.5" fill="#050505"/>
<circle cx="1072.4" cy="736.0" r="3.5" fill="#050505"/>
<circle cx="1072.2" cy="743.0" r="3.5" fill="#050505"/>
<circle cx="1073.0" cy="749.6" r="3.5" fill="#050505"/>
<circle cx="1077.0" cy="762.0" r="3.5" fill="#050505"/>
<circle cx="1025.0" cy="765.8" r="3.5" fill="#050505"/>
<circle cx="1052.8" cy="769.0" r="3.5" fill="#050505"/>
<circle cx="1052.8" cy="778.6" r="3.5" fill="#050505"/>
<circle cx="960.6" cy="793.4" r="3.5" fill="#050505"/>
<circle cx="960.6" cy="803.2" r="3.5" fill="#050505"/>
<circle cx="1025.0" cy="792.0" r="3.5" fill="#050505"/>
<circle cx="1044.6" cy="798.4" r="3.5" fill="#050505"/>
<circle cx="1072.2" cy="792.0" r="3.5" fill="#050505"/>
<circle cx="1072.2" cy="801.0" r="3.5" fill="#050505"/>
<circle cx="1057.0" cy="806.0" r="3.5" fill="#050505"/>
<circle cx="1057.0" cy="824.2" r="3.5" fill="#050505"/>
<circle cx="965.0" cy="819.0" r="3.5" fill="#050505"/>
<circle cx="965.0" cy="829.0" r="3.5" fill="#050505"/>
<circle cx="980.6" cy="862.0" r="3.5" fill="#050505"/>
<circle cx="977.0" cy="879.4" r="3.5" fill="#050505"/>
<circle cx="980.6" cy="884.4" r="3.5" fill="#050505"/>
<circle cx="970.8" cy="899.0" r="3.5" fill="#050505"/>
<circle cx="1022.8" cy="914.0" r="3.5" fill="#050505"/>
<circle cx="1022.8" cy="915.6" r="3.5" fill="#050505"/>
<circle cx="1095.4" cy="669.0" r="3.5" fill="#050505"/>
<circle cx="1095.4" cy="672.4" r="3.5" fill="#050505"/>
<circle cx="1144.8" cy="704.4" r="3.5" fill="#050505"/>
<circle cx="1144.8" cy="707.0" r="3.5" fill="#050505"/>
<circle cx="1096.2" cy="715.2" r="3.5" fill="#050505"/>
<circle cx="1085.6" cy="733.2" r="3.5" fill="#050505"/>
<circle cx="1085.6" cy="742.4" r="3.5" fill="#050505"/>
<circle cx="1085.0" cy="747.0" r="3.5" fill="#050505"/>
<circle cx="1159.0" cy="723.6" r="3.5" fill="#050505"/>
<circle cx="1159.0" cy="728.4" r="3.5" fill="#050505"/>
<circle cx="1173.0" cy="744.6" r="3.5" fill="#050505"/>
<circle cx="1173.0" cy="761.6" r="3.5" fill="#050505"/>
<circle cx="1098.0" cy="769.4" r="3.5" fill="#050505"/>
<circle cx="1319.8" cy="768.4" r="3.5" fill="#050505"/>
<circle cx="1115.6" cy="794.4" r="3.5" fill="#050505"/>
<path d="M904.0,762.7 L910.9,762.5 L917.9,762.3 L924.8,762.1 L931.7,761.9 L938.7,761.6 L945.6,761.3 L952.5,761.0 L959.5,760.7 L966.4,760.3 L973.3,759.8 L980.3,759.3 L987.2,758.8 L994.1,758.2 L1001.1,757.5 L1008.0,756.7 L1014.9,755.9 L1021.9,754.9 L1028.8,753.8 L1035.7,752.6 L1042.7,751.2 L1049.6,749.7 L1056.5,748.1 L1063.5,746.4 L1070.4,744.5 L1077.3,742.5 L1084.3,740.4 L1091.2,738.2 L1098.1,735.8 L1105.1,733.4 L1112.0,731.0 L1118.9,728.4 L1125.9,725.8 L1132.8,723.2 L1139.7,720.5 L1146.7,717.7 L1153.6,715.0 L1160.5,712.2 L1167.5,709.3 L1174.4,706.5 L1181.3,703.6 L1188.3,700.7 L1195.2,697.8 L1202.1,694.9 L1209.1,692.0 L1216.0,689.0 L1222.9,686.0 L1229.9,683.1 L1236.8,680.1 L1243.7,677.1 L1250.7,674.1 L1257.6,671.1 L1264.5,668.1 L1271.5,665.1 L1278.4,662.1 L1285.3,659.1 L1292.3,656.0 L1299.2,653.0 L1306.1,650.0 L1313.1,646.9 L1320.0,643.9 L1320.0,770.9 L1313.1,770.9 L1306.1,771.0 L1299.2,771.0 L1292.3,771.1 L1285.3,771.2 L1278.4,771.2 L1271.5,771.3 L1264.5,771.4 L1257.6,771.5 L1250.7,771.5 L1243.7,771.6 L1236.8,771.7 L1229.9,771.8 L1222.9,772.0 L1216.0,772.1 L1209.1,772.2 L1202.1,772.4 L1195.2,772.5 L1188.3,772.7 L1181.3,772.9 L1174.4,773.1 L1167.5,773.4 L1160.5,773.6 L1153.6,773.9 L1146.7,774.2 L1139.7,774.6 L1132.8,775.0 L1125.9,775.4 L1118.9,775.9 L1112.0,776.4 L1105.1,777.0 L1098.1,777.7 L1091.2,778.5 L1084.3,779.4 L1077.3,780.3 L1070.4,781.4 L1063.5,782.6 L1056.5,784.0 L1049.6,785.4 L1042.7,787.0 L1035.7,788.8 L1028.8,790.7 L1021.9,792.7 L1014.9,794.8 L1008.0,797.0 L1001.1,799.3 L994.1,801.7 L987.2,804.2 L980.3,806.7 L973.3,809.3 L966.4,812.0 L959.5,814.6 L952.5,817.4 L945.6,820.1 L938.7,822.9 L931.7,825.8 L924.8,828.6 L917.9,831.5 L910.9,834.4 L904.0,837.3 Z" fill="rgba(150,40,240,0.2)"/>
<line x1="904.00" y1="800.00" x2="1320.00" y2="707.40" stroke="#a426f8" stroke-width="2.1" />
<path d="M883.00,630.40 L883.00,928.90 L1341.00,928.90" fill="none" stroke="#303030" stroke-width="1.5" stroke-linejoin="round"/>
<line x1="879.40" y1="733.00" x2="883.00" y2="733.00" stroke="#262626" stroke-width="1.3" />
<line x1="879.40" y1="842.00" x2="883.00" y2="842.00" stroke="#262626" stroke-width="1.3" />
<line x1="907.60" y1="928.90" x2="907.60" y2="932.40" stroke="#262626" stroke-width="1.3" />
<line x1="1049.40" y1="928.90" x2="1049.40" y2="932.40" stroke="#262626" stroke-width="1.3" />
<line x1="1190.50" y1="928.90" x2="1190.50" y2="932.40" stroke="#262626" stroke-width="1.3" />
<line x1="1331.70" y1="928.90" x2="1331.70" y2="932.40" stroke="#262626" stroke-width="1.3" />
<text transform="translate(1233.00,892.60) scale(0.9959,1.0000) translate(-2.31,0)" font-family="'Liberation Sans', sans-serif" font-size="35.5" fill="#0d0d0d" stroke="#0d0d0d" stroke-width="0.5">r=0.28</text>
<line x1="1549" y1="381.6" x2="1960" y2="381.6" stroke="#111" stroke-width="1"/>
<rect x="1627.8" y="355" width="3.6" height="5" fill="#000"/>
<path d="M1631.30,381.60 L1631.30,329.00 L1634.87,329.00 L1634.87,318.40 L1638.44,318.40 L1638.44,302.50 L1642.00,302.50 L1642.00,302.50 L1645.57,302.50 L1645.57,293.00 L1649.14,293.00 L1649.14,295.60 L1652.71,295.60 L1652.71,291.00 L1656.28,291.00 L1656.28,285.50 L1659.84,285.50 L1659.84,256.40 L1663.41,256.40 L1663.41,268.80 L1666.98,268.80 L1666.98,249.50 L1670.55,249.50 L1670.55,254.00 L1674.12,254.00 L1674.12,245.60 L1677.68,245.60 L1677.68,229.00 L1681.25,229.00 L1681.25,226.00 L1684.82,226.00 L1684.82,216.00 L1688.39,216.00 L1688.39,213.40 L1691.96,213.40 L1691.96,207.00 L1695.52,207.00 L1695.52,215.00 L1699.09,215.00 L1699.09,185.60 L1702.66,185.60 L1702.66,189.60 L1706.23,189.60 L1706.23,183.00 L1709.80,183.00 L1709.80,180.40 L1713.36,180.40 L1713.36,176.40 L1716.93,176.40 L1716.93,173.00 L1720.50,173.00 L1720.50,143.60 L1724.07,143.60 L1724.07,170.40 L1727.64,170.40 L1727.64,151.00 L1731.20,151.00 L1731.20,136.40 L1734.77,136.40 L1734.77,152.40 L1738.34,152.40 L1738.34,155.60 L1741.91,155.60 L1741.91,134.40 L1745.48,134.40 L1745.48,152.00 L1749.04,152.00 L1749.04,148.40 L1752.61,148.40 L1752.61,181.40 L1756.18,181.40 L1756.18,166.00 L1759.75,166.00 L1759.75,180.40 L1763.32,180.40 L1763.32,176.00 L1766.88,176.00 L1766.88,173.60 L1770.45,173.60 L1770.45,169.60 L1774.02,169.60 L1774.02,193.60 L1777.59,193.60 L1777.59,205.20 L1781.16,205.20 L1781.16,210.50 L1784.72,210.50 L1784.72,194.60 L1788.29,194.60 L1788.29,209.00 L1791.86,209.00 L1791.86,206.20 L1795.43,206.20 L1795.43,225.20 L1799.00,225.20 L1799.00,225.20 L1802.56,225.20 L1802.56,236.20 L1806.13,236.20 L1806.13,247.00 L1809.70,247.00 L1809.70,229.50 L1813.27,229.50 L1813.27,254.80 L1816.84,254.80 L1816.84,258.40 L1820.40,258.40 L1820.40,259.20 L1823.97,259.20 L1823.97,279.40 L1827.54,279.40 L1827.54,274.80 L1831.11,274.80 L1831.11,283.80 L1834.68,283.80 L1834.68,285.80 L1838.24,285.80 L1838.24,293.60 L1841.81,293.60 L1841.81,304.50 L1845.38,304.50 L1845.38,321.00 L1848.95,321.00 L1848.95,324.00 L1852.52,324.00 L1852.52,319.00 L1856.08,319.00 L1856.08,319.40 L1859.65,319.40 L1859.65,333.60 L1863.22,333.60 L1863.22,381.60 Z" fill="#000" stroke="#000" stroke-width="0.6"/>
<rect x="1549.00" y="380.60" width="3.58" height="1.00" fill="#ff2d0e" stroke="#2a0500" stroke-width="0.85"/>
<rect x="1552.58" y="379.60" width="3.58" height="2.00" fill="#ff2d0e" stroke="#2a0500" stroke-width="0.85"/>
<rect x="1556.16" y="380.40" width="3.58" height="1.20" fill="#ff2d0e" stroke="#2a0500" stroke-width="0.85"/>
<rect x="1559.74" y="379.80" width="3.58" height="1.80" fill="#ff2d0e" stroke="#2a0500" stroke-width="0.85"/>
<rect x="1563.32" y="377.40" width="3.58" height="4.20" fill="#ff2d0e" stroke="#2a0500" stroke-width="0.85"/>
<rect x="1566.90" y="379.00" width="3.58" height="2.60" fill="#ff2d0e" stroke="#2a0500" stroke-width="0.85"/>
<rect x="1570.48" y="372.00" width="3.58" height="9.60" fill="#ff2d0e" stroke="#2a0500" stroke-width="0.85"/>
<rect x="1574.06" y="376.00" width="3.58" height="5.60" fill="#ff2d0e" stroke="#2a0500" stroke-width="0.85"/>
<rect x="1577.64" y="372.80" width="3.58" height="8.80" fill="#ff2d0e" stroke="#2a0500" stroke-width="0.85"/>
<rect x="1581.22" y="372.80" width="3.58" height="8.80" fill="#ff2d0e" stroke="#2a0500" stroke-width="0.85"/>
<rect x="1584.80" y="368.60" width="3.58" height="13.00" fill="#ff2d0e" stroke="#2a0500" stroke-width="0.85"/>
<rect x="1588.38" y="357.20" width="3.58" height="24.40" fill="#ff2d0e" stroke="#2a0500" stroke-width="0.85"/>
<rect x="1591.96" y="366.00" width="3.58" height="15.60" fill="#ff2d0e" stroke="#2a0500" stroke-width="0.85"/>
<rect x="1595.54" y="357.20" width="3.58" height="24.40" fill="#ff2d0e" stroke="#2a0500" stroke-width="0.85"/>
<rect x="1599.12" y="356.60" width="3.58" height="25.00" fill="#ff2d0e" stroke="#2a0500" stroke-width="0.85"/>
<rect x="1602.70" y="353.60" width="3.58" height="28.00" fill="#ff2d0e" stroke="#2a0500" stroke-width="0.85"/>
<rect x="1606.28" y="348.40" width="3.58" height="33.20" fill="#ff2d0e" stroke="#2a0500" stroke-width="0.85"/>
<rect x="1609.86" y="348.40" width="3.58" height="33.20" fill="#ff2d0e" stroke="#2a0500" stroke-width="0.85"/>
<rect x="1613.44" y="340.40" width="3.58" height="41.20" fill="#ff2d0e" stroke="#2a0500" stroke-width="0.85"/>
<rect x="1617.02" y="339.20" width="3.58" height="42.40" fill="#ff2d0e" stroke="#2a0500" stroke-width="0.85"/>
<rect x="1620.60" y="335.60" width="3.58" height="46.00" fill="#ff2d0e" stroke="#2a0500" stroke-width="0.85"/>
<rect x="1624.18" y="335.60" width="3.58" height="46.00" fill="#ff2d0e" stroke="#2a0500" stroke-width="0.85"/>
<rect x="1627.76" y="359.00" width="3.58" height="22.60" fill="#ff2d0e" stroke="#2a0500" stroke-width="0.85"/>
<rect x="1863.20" y="360.60" width="3.58" height="21.00" fill="#2a1bff" stroke="#060030" stroke-width="0.85"/>
<rect x="1866.78" y="344.40" width="3.58" height="37.20" fill="#2a1bff" stroke="#060030" stroke-width="0.85"/>
<rect x="1870.36" y="345.60" width="3.58" height="36.00" fill="#2a1bff" stroke="#060030" stroke-width="0.85"/>
<rect x="1873.94" y="353.00" width="3.58" height="28.60" fill="#2a1bff" stroke="#060030" stroke-width="0.85"/>
<rect x="1877.52" y="355.00" width="3.58" height="26.60" fill="#2a1bff" stroke="#060030" stroke-width="0.85"/>
<rect x="1881.10" y="359.40" width="3.58" height="22.20" fill="#2a1bff" stroke="#060030" stroke-width="0.85"/>
<rect x="1884.68" y="357.40" width="3.58" height="24.20" fill="#2a1bff" stroke="#060030" stroke-width="0.85"/>
<rect x="1888.26" y="368.60" width="3.58" height="13.00" fill="#2a1bff" stroke="#060030" stroke-width="0.85"/>
<rect x="1891.84" y="365.40" width="3.58" height="16.20" fill="#2a1bff" stroke="#060030" stroke-width="0.85"/>
<rect x="1895.42" y="367.40" width="3.58" height="14.20" fill="#2a1bff" stroke="#060030" stroke-width="0.85"/>
<rect x="1899.00" y="369.00" width="3.58" height="12.60" fill="#2a1bff" stroke="#060030" stroke-width="0.85"/>
<rect x="1902.58" y="373.00" width="3.58" height="8.60" fill="#2a1bff" stroke="#060030" stroke-width="0.85"/>
<rect x="1906.16" y="377.00" width="3.58" height="4.60" fill="#2a1bff" stroke="#060030" stroke-width="0.85"/>
<rect x="1909.74" y="377.00" width="3.58" height="4.60" fill="#2a1bff" stroke="#060030" stroke-width="0.85"/>
<rect x="1913.32" y="377.00" width="3.58" height="4.60" fill="#2a1bff" stroke="#060030" stroke-width="0.85"/>
<rect x="1916.90" y="377.00" width="3.58" height="4.60" fill="#2a1bff" stroke="#060030" stroke-width="0.85"/>
<rect x="1920.48" y="376.00" width="3.58" height="5.60" fill="#2a1bff" stroke="#060030" stroke-width="0.85"/>
<rect x="1924.06" y="379.40" width="3.58" height="2.20" fill="#2a1bff" stroke="#060030" stroke-width="0.85"/>
<rect x="1927.64" y="380.00" width="3.58" height="1.60" fill="#2a1bff" stroke="#060030" stroke-width="0.85"/>
<rect x="1931.22" y="378.60" width="3.58" height="3.00" fill="#2a1bff" stroke="#060030" stroke-width="0.85"/>
<rect x="1934.80" y="380.60" width="3.58" height="1.00" fill="#2a1bff" stroke="#060030" stroke-width="0.85"/>
<rect x="1938.38" y="381.00" width="3.58" height="0.60" fill="#2a1bff" stroke="#060030" stroke-width="0.85"/>
<rect x="1941.96" y="380.40" width="3.58" height="1.20" fill="#2a1bff" stroke="#060030" stroke-width="0.85"/>
<rect x="1945.54" y="381.00" width="3.58" height="0.60" fill="#2a1bff" stroke="#060030" stroke-width="0.85"/>
<rect x="1949.12" y="381.00" width="3.58" height="0.60" fill="#2a1bff" stroke="#060030" stroke-width="0.85"/>
<rect x="1952.70" y="381.00" width="3.58" height="0.60" fill="#2a1bff" stroke="#060030" stroke-width="0.85"/>
<rect x="1956.28" y="381.00" width="3.58" height="0.60" fill="#2a1bff" stroke="#060030" stroke-width="0.85"/>
<line x1="1629.90" y1="394.60" x2="1629.90" y2="96.00" stroke="#383838" stroke-width="1.15" stroke-dasharray="3.7 3.6"/>
<line x1="1864.40" y1="394.60" x2="1864.40" y2="96.00" stroke="#383838" stroke-width="1.15" stroke-dasharray="3.7 3.6"/>
<path d="M1529.00,96.00 L1529.00,394.60 L1980.00,394.60" fill="none" stroke="#303030" stroke-width="1.5" stroke-linejoin="round"/>
<line x1="1525.40" y1="110.00" x2="1529.00" y2="110.00" stroke="#262626" stroke-width="1.3" />
<line x1="1525.40" y1="178.00" x2="1529.00" y2="178.00" stroke="#262626" stroke-width="1.3" />
<line x1="1525.40" y1="245.70" x2="1529.00" y2="245.70" stroke="#262626" stroke-width="1.3" />
<line x1="1525.40" y1="313.50" x2="1529.00" y2="313.50" stroke="#262626" stroke-width="1.3" />
<line x1="1525.40" y1="381.40" x2="1529.00" y2="381.40" stroke="#262626" stroke-width="1.3" />
<line x1="1533.60" y1="394.60" x2="1533.60" y2="398.10" stroke="#262626" stroke-width="1.3" />
<line x1="1640.60" y1="394.60" x2="1640.60" y2="398.10" stroke="#262626" stroke-width="1.3" />
<line x1="1747.50" y1="394.60" x2="1747.50" y2="398.10" stroke="#262626" stroke-width="1.3" />
<line x1="1854.50" y1="394.60" x2="1854.50" y2="398.10" stroke="#262626" stroke-width="1.3" />
<line x1="1961.60" y1="394.60" x2="1961.60" y2="398.10" stroke="#262626" stroke-width="1.3" />
<line x1="1549" y1="915.6" x2="1976" y2="915.6" stroke="#111" stroke-width="1"/>
<path d="M1621.00,915.60 L1621.00,879.00 L1625.23,879.00 L1625.23,869.00 L1629.46,869.00 L1629.46,855.60 L1633.69,855.60 L1633.69,847.20 L1637.92,847.20 L1637.92,848.40 L1642.15,848.40 L1642.15,838.60 L1646.39,838.60 L1646.39,815.00 L1650.62,815.00 L1650.62,812.20 L1654.85,812.20 L1654.85,801.50 L1659.08,801.50 L1659.08,792.20 L1663.31,792.20 L1663.31,783.20 L1667.54,783.20 L1667.54,783.20 L1671.77,783.20 L1671.77,762.70 L1676.00,762.70 L1676.00,748.00 L1680.23,748.00 L1680.23,746.50 L1684.46,746.50 L1684.46,724.50 L1688.70,724.50 L1688.70,731.20 L1692.93,731.20 L1692.93,720.40 L1697.16,720.40 L1697.16,712.60 L1701.39,712.60 L1701.39,697.80 L1705.62,697.80 L1705.62,703.00 L1709.85,703.00 L1709.85,691.40 L1714.08,691.40 L1714.08,676.00 L1718.31,676.00 L1718.31,662.60 L1722.54,662.60 L1722.54,666.60 L1726.78,666.60 L1726.78,652.40 L1731.01,652.40 L1731.01,665.40 L1735.24,665.40 L1735.24,670.00 L1739.47,670.00 L1739.47,659.00 L1743.70,659.00 L1743.70,645.60 L1747.93,645.60 L1747.93,676.60 L1752.16,676.60 L1752.16,657.60 L1756.39,657.60 L1756.39,676.60 L1760.62,676.60 L1760.62,661.20 L1764.85,661.20 L1764.85,671.00 L1769.09,671.00 L1769.09,701.60 L1773.32,701.60 L1773.32,676.60 L1777.55,676.60 L1777.55,656.20 L1781.78,656.20 L1781.78,673.60 L1786.01,673.60 L1786.01,668.00 L1790.24,668.00 L1790.24,687.00 L1794.47,687.00 L1794.47,676.80 L1798.70,676.80 L1798.70,722.00 L1802.93,722.00 L1802.93,702.00 L1807.16,702.00 L1807.16,706.40 L1811.39,706.40 L1811.39,735.00 L1815.63,735.00 L1815.63,735.00 L1819.86,735.00 L1819.86,731.60 L1824.09,731.60 L1824.09,755.60 L1828.32,755.60 L1828.32,748.60 L1832.55,748.60 L1832.55,757.00 L1836.78,757.00 L1836.78,785.80 L1841.01,785.80 L1841.01,783.70 L1845.24,783.70 L1845.24,769.00 L1849.47,769.00 L1849.47,810.60 L1853.70,810.60 L1853.70,813.20 L1857.94,813.20 L1857.94,813.20 L1862.17,813.20 L1862.17,838.00 L1866.40,838.00 L1866.40,832.40 L1870.63,832.40 L1870.63,841.40 L1874.86,841.40 L1874.86,859.60 L1879.09,859.60 L1879.09,865.60 L1883.32,865.60 L1883.32,872.00 L1887.55,872.00 L1887.55,878.40 L1891.78,878.40 L1891.78,891.00 L1896.02,891.00 L1896.01,915.60 Z" fill="#000" stroke="#000" stroke-width="0.6"/>
<rect x="1549.00" y="914.80" width="4.24" height="0.80" fill="#ff2d0e" stroke="#2a0500" stroke-width="0.85"/>
<rect x="1553.23" y="915.00" width="4.24" height="0.60" fill="#ff2d0e" stroke="#2a0500" stroke-width="0.85"/>
<rect x="1557.47" y="914.80" width="4.24" height="0.80" fill="#ff2d0e" stroke="#2a0500" stroke-width="0.85"/>
<rect x="1561.70" y="914.80" width="4.24" height="0.80" fill="#ff2d0e" stroke="#2a0500" stroke-width="0.85"/>
<rect x="1565.94" y="913.60" width="4.24" height="2.00" fill="#ff2d0e" stroke="#2a0500" stroke-width="0.85"/>
<rect x="1570.17" y="914.40" width="4.24" height="1.20" fill="#ff2d0e" stroke="#2a0500" stroke-width="0.85"/>
<rect x="1574.41" y="910.60" width="4.24" height="5.00" fill="#ff2d0e" stroke="#2a0500" stroke-width="0.85"/>
<rect x="1578.64" y="912.60" width="4.24" height="3.00" fill="#ff2d0e" stroke="#2a0500" stroke-width="0.85"/>
<rect x="1582.88" y="910.20" width="4.24" height="5.40" fill="#ff2d0e" stroke="#2a0500" stroke-width="0.85"/>
<rect x="1587.12" y="912.20" width="4.24" height="3.40" fill="#ff2d0e" stroke="#2a0500" stroke-width="0.85"/>
<rect x="1591.35" y="911.20" width="4.24" height="4.40" fill="#ff2d0e" stroke="#2a0500" stroke-width="0.85"/>
<rect x="1595.59" y="899.00" width="4.24" height="16.60" fill="#ff2d0e" stroke="#2a0500" stroke-width="0.85"/>
<rect x="1599.82" y="904.40" width="4.24" height="11.20" fill="#ff2d0e" stroke="#2a0500" stroke-width="0.85"/>
<rect x="1604.06" y="903.60" width="4.24" height="12.00" fill="#ff2d0e" stroke="#2a0500" stroke-width="0.85"/>
<rect x="1608.29" y="890.40" width="4.24" height="25.20" fill="#ff2d0e" stroke="#2a0500" stroke-width="0.85"/>
<rect x="1612.53" y="880.60" width="4.24" height="35.00" fill="#ff2d0e" stroke="#2a0500" stroke-width="0.85"/>
<rect x="1616.76" y="892.00" width="4.24" height="23.60" fill="#ff2d0e" stroke="#2a0500" stroke-width="0.85"/>
<rect x="1896.00" y="902.60" width="4.24" height="13.00" fill="#2a1bff" stroke="#060030" stroke-width="0.85"/>
<rect x="1900.23" y="900.00" width="4.24" height="15.60" fill="#2a1bff" stroke="#060030" stroke-width="0.85"/>
<rect x="1904.47" y="898.40" width="4.24" height="17.20" fill="#2a1bff" stroke="#060030" stroke-width="0.85"/>
<rect x="1908.70" y="902.40" width="4.24" height="13.20" fill="#2a1bff" stroke="#060030" stroke-width="0.85"/>
<rect x="1912.94" y="904.40" width="4.24" height="11.20" fill="#2a1bff" stroke="#060030" stroke-width="0.85"/>
<rect x="1917.17" y="902.40" width="4.24" height="13.20" fill="#2a1bff" stroke="#060030" stroke-width="0.85"/>
<rect x="1921.41" y="909.60" width="4.24" height="6.00" fill="#2a1bff" stroke="#060030" stroke-width="0.85"/>
<rect x="1925.64" y="912.40" width="4.24" height="3.20" fill="#2a1bff" stroke="#060030" stroke-width="0.85"/>
<rect x="1929.88" y="912.40" width="4.24" height="3.20" fill="#2a1bff" stroke="#060030" stroke-width="0.85"/>
<rect x="1934.12" y="914.40" width="4.24" height="1.20" fill="#2a1bff" stroke="#060030" stroke-width="0.85"/>
<rect x="1938.35" y="915.00" width="4.24" height="0.60" fill="#2a1bff" stroke="#060030" stroke-width="0.85"/>
<rect x="1942.59" y="915.00" width="4.24" height="0.60" fill="#2a1bff" stroke="#060030" stroke-width="0.85"/>
<rect x="1946.82" y="915.00" width="4.24" height="0.60" fill="#2a1bff" stroke="#060030" stroke-width="0.85"/>
<rect x="1951.06" y="914.20" width="4.24" height="1.40" fill="#2a1bff" stroke="#060030" stroke-width="0.85"/>
<rect x="1955.29" y="915.00" width="4.24" height="0.60" fill="#2a1bff" stroke="#060030" stroke-width="0.85"/>
<rect x="1959.53" y="915.00" width="4.24" height="0.60" fill="#2a1bff" stroke="#060030" stroke-width="0.85"/>
<rect x="1963.76" y="915.00" width="4.24" height="0.60" fill="#2a1bff" stroke="#060030" stroke-width="0.85"/>
<rect x="1967.99" y="915.00" width="4.24" height="0.60" fill="#2a1bff" stroke="#060030" stroke-width="0.85"/>
<rect x="1972.23" y="915.00" width="4.24" height="0.60" fill="#2a1bff" stroke="#060030" stroke-width="0.85"/>
<line x1="1619.60" y1="929.60" x2="1619.60" y2="620.00" stroke="#383838" stroke-width="1.15" stroke-dasharray="3.9 3.77"/>
<line x1="1897.50" y1="929.60" x2="1897.50" y2="620.00" stroke="#383838" stroke-width="1.15" stroke-dasharray="3.9 3.77"/>
<path d="M1528.20,620.00 L1528.20,929.60 L1997.00,929.60" fill="none" stroke="#303030" stroke-width="1.5" stroke-linejoin="round"/>
<line x1="1524.60" y1="634.00" x2="1528.20" y2="634.00" stroke="#262626" stroke-width="1.3" />
<line x1="1524.60" y1="704.30" x2="1528.20" y2="704.30" stroke="#262626" stroke-width="1.3" />
<line x1="1524.60" y1="774.70" x2="1528.20" y2="774.70" stroke="#262626" stroke-width="1.3" />
<line x1="1524.60" y1="845.20" x2="1528.20" y2="845.20" stroke="#262626" stroke-width="1.3" />
<line x1="1524.60" y1="915.60" x2="1528.20" y2="915.60" stroke="#262626" stroke-width="1.3" />
<line x1="1547.60" y1="929.60" x2="1547.60" y2="933.10" stroke="#262626" stroke-width="1.3" />
<line x1="1652.80" y1="929.60" x2="1652.80" y2="933.10" stroke="#262626" stroke-width="1.3" />
<line x1="1758.40" y1="929.60" x2="1758.40" y2="933.10" stroke="#262626" stroke-width="1.3" />
<line x1="1864.00" y1="929.60" x2="1864.00" y2="933.10" stroke="#262626" stroke-width="1.3" />
<line x1="1969.80" y1="929.60" x2="1969.80" y2="933.10" stroke="#262626" stroke-width="1.3" />
<text transform="translate(866.60,433.10) scale(0.9658,1.0000) translate(-1.60,0)" font-family="'Liberation Sans', sans-serif" font-size="35.5" fill="#0d0d0d" stroke="#0d0d0d" stroke-width="0.5">-0.4</text>
<text transform="translate(997.10,433.10) scale(0.9569,1.0000) translate(-1.60,0)" font-family="'Liberation Sans', sans-serif" font-size="35.5" fill="#0d0d0d" stroke="#0d0d0d" stroke-width="0.5">-0.2</text>
<text transform="translate(1137.50,433.10) scale(0.9447,1.0000) translate(-1.42,0)" font-family="'Liberation Sans', sans-serif" font-size="35.5" fill="#0d0d0d" stroke="#0d0d0d" stroke-width="0.5">0.0</text>
<text transform="translate(1265.00,433.10) scale(0.9447,1.0000) translate(-1.42,0)" font-family="'Liberation Sans', sans-serif" font-size="35.5" fill="#0d0d0d" stroke="#0d0d0d" stroke-width="0.5">0.2</text>
<text y="479.20" font-family="'Liberation Sans', sans-serif" font-size="34.4" fill="#0d0d0d" stroke="#0d0d0d" stroke-width="0.5"><tspan x="989.16" textLength="128.20" lengthAdjust="spacingAndGlyphs">regional</tspan> <tspan x="1127.20" textLength="121.28" lengthAdjust="spacingAndGlyphs">weights</tspan></text>
<text transform="translate(826.00,850.00) rotate(-90) scale(0.9562,1.0000) translate(-0.17,0)" font-family="'Liberation Sans', sans-serif" font-size="34.4" fill="#0d0d0d" stroke="#0d0d0d" stroke-width="0.5">W-scores</text>
<text transform="translate(840.60,743.60) scale(0.8239,1.0000) translate(-1.60,0)" font-family="'Liberation Sans', sans-serif" font-size="35.5" fill="#0d0d0d" stroke="#0d0d0d" stroke-width="0.5">-1</text>
<text transform="translate(840.60,852.40) scale(1.0063,1.0000) translate(-1.60,0)" font-family="'Liberation Sans', sans-serif" font-size="35.5" fill="#0d0d0d" stroke="#0d0d0d" stroke-width="0.5">-2</text>
<text transform="translate(867.20,968.00) scale(0.9445,1.0000) translate(-1.60,0)" font-family="'Liberation Sans', sans-serif" font-size="35.5" fill="#0d0d0d" stroke="#0d0d0d" stroke-width="0.5">-0.25</text>
<text transform="translate(1016.80,968.00) scale(0.9400,1.0000) translate(-1.42,0)" font-family="'Liberation Sans', sans-serif" font-size="35.5" fill="#0d0d0d" stroke="#0d0d0d" stroke-width="0.5">0.00</text>
<text transform="translate(1159.50,968.00) scale(0.9380,1.0000) translate(-1.42,0)" font-family="'Liberation Sans', sans-serif" font-size="35.5" fill="#0d0d0d" stroke="#0d0d0d" stroke-width="0.5">0.25</text>
<text transform="translate(1293.60,968.00) scale(0.9520,1.0000) translate(-1.42,0)" font-family="'Liberation Sans', sans-serif" font-size="35.5" fill="#0d0d0d" stroke="#0d0d0d" stroke-width="0.5">0.50</text>
<text y="1015.60" font-family="'Liberation Sans', sans-serif" font-size="34.4" fill="#0d0d0d" stroke="#0d0d0d" stroke-width="0.5"><tspan x="989.16" textLength="128.20" lengthAdjust="spacingAndGlyphs">regional</tspan> <tspan x="1127.20" textLength="121.28" lengthAdjust="spacingAndGlyphs">weights</tspan></text>
<text transform="translate(1461.00,123.00) scale(0.9903,1.0000) translate(-0.71,0)" font-family="'Liberation Sans', sans-serif" font-size="35.5" fill="#0d0d0d" stroke="#0d0d0d" stroke-width="0.5">400</text>
<text transform="translate(1462.00,191.00) scale(0.9850,1.0000) translate(-1.42,0)" font-family="'Liberation Sans', sans-serif" font-size="35.5" fill="#0d0d0d" stroke="#0d0d0d" stroke-width="0.5">300</text>
<text transform="translate(1462.00,259.00) scale(0.9913,1.0000) translate(-1.78,0)" font-family="'Liberation Sans', sans-serif" font-size="35.5" fill="#0d0d0d" stroke="#0d0d0d" stroke-width="0.5">200</text>
<text transform="translate(1464.00,326.40) scale(0.9710,1.0000) translate(-2.66,0)" font-family="'Liberation Sans', sans-serif" font-size="35.5" fill="#0d0d0d" stroke="#0d0d0d" stroke-width="0.5">100</text>
<text transform="translate(1500.00,393.80) scale(1.0329,1.0000) translate(-1.42,0)" font-family="'Liberation Sans', sans-serif" font-size="35.5" fill="#0d0d0d" stroke="#0d0d0d" stroke-width="0.5">0</text>
<text transform="translate(1439.70,263.20) rotate(-90) scale(1.0659,1.0000) translate(-1.38,0)" font-family="'Liberation Sans', sans-serif" font-size="34.4" fill="#0d0d0d" stroke="#0d0d0d" stroke-width="0.5">count</text>
<text transform="translate(1499.50,433.10) scale(0.9567,1.0000) translate(-1.60,0)" font-family="'Liberation Sans', sans-serif" font-size="35.5" fill="#0d0d0d" stroke="#0d0d0d" stroke-width="0.5">-6.0</text>
<text transform="translate(1608.80,433.10) scale(0.9533,1.0000) translate(-1.60,0)" font-family="'Liberation Sans', sans-serif" font-size="35.5" fill="#0d0d0d" stroke="#0d0d0d" stroke-width="0.5">-3.0</text>
<text transform="translate(1727.20,433.10) scale(0.9383,1.0000) translate(-1.42,0)" font-family="'Liberation Sans', sans-serif" font-size="35.5" fill="#0d0d0d" stroke="#0d0d0d" stroke-width="0.5">0.0</text>
<text transform="translate(1845.60,433.10) scale(0.9361,1.0000) translate(-1.42,0)" font-family="'Liberation Sans', sans-serif" font-size="35.5" fill="#0d0d0d" stroke="#0d0d0d" stroke-width="0.5">3.0</text>
<text transform="translate(1938.40,433.10) scale(0.9498,1.0000) translate(-1.78,0)" font-family="'Liberation Sans', sans-serif" font-size="35.5" fill="#0d0d0d" stroke="#0d0d0d" stroke-width="0.5">6.0</text>
<text y="479.20" font-family="'Liberation Sans', sans-serif" font-size="34.4" fill="#0d0d0d" stroke="#0d0d0d" stroke-width="0.5"><tspan x="1583.21" textLength="214.49" lengthAdjust="spacingAndGlyphs">bootstrapped</tspan> <tspan x="1807.20" textLength="121.28" lengthAdjust="spacingAndGlyphs">weights</tspan></text>
<text transform="translate(1458.00,647.60) scale(0.9868,1.0000) translate(-0.71,0)" font-family="'Liberation Sans', sans-serif" font-size="35.5" fill="#0d0d0d" stroke="#0d0d0d" stroke-width="0.5">400</text>
<text transform="translate(1459.00,716.00) scale(0.9815,1.0000) translate(-1.42,0)" font-family="'Liberation Sans', sans-serif" font-size="35.5" fill="#0d0d0d" stroke="#0d0d0d" stroke-width="0.5">300</text>
<text transform="translate(1459.00,784.40) scale(0.9877,1.0000) translate(-1.78,0)" font-family="'Liberation Sans', sans-serif" font-size="35.5" fill="#0d0d0d" stroke="#0d0d0d" stroke-width="0.5">200</text>
<text transform="translate(1461.00,852.70) scale(0.9673,1.0000) translate(-2.66,0)" font-family="'Liberation Sans', sans-serif" font-size="35.5" fill="#0d0d0d" stroke="#0d0d0d" stroke-width="0.5">100</text>
<text transform="translate(1497.00,921.00) scale(1.0211,1.0000) translate(-1.42,0)" font-family="'Liberation Sans', sans-serif" font-size="35.5" fill="#0d0d0d" stroke="#0d0d0d" stroke-width="0.5">0</text>
<text transform="translate(1439.70,805.00) rotate(-90) scale(1.0659,1.0000) translate(-1.38,0)" font-family="'Liberation Sans', sans-serif" font-size="34.4" fill="#0d0d0d" stroke="#0d0d0d" stroke-width="0.5">count</text>
<text transform="translate(1512.80,968.00) scale(0.9567,1.0000) translate(-1.60,0)" font-family="'Liberation Sans', sans-serif" font-size="35.5" fill="#0d0d0d" stroke="#0d0d0d" stroke-width="0.5">-5.0</text>
<text transform="translate(1622.00,968.00) scale(0.9390,1.0000) translate(-1.60,0)" font-family="'Liberation Sans', sans-serif" font-size="35.5" fill="#0d0d0d" stroke="#0d0d0d" stroke-width="0.5">-2.5</text>
<text transform="translate(1737.30,968.00) scale(0.9468,1.0000) translate(-1.42,0)" font-family="'Liberation Sans', sans-serif" font-size="35.5" fill="#0d0d0d" stroke="#0d0d0d" stroke-width="0.5">0.0</text>
<text transform="translate(1843.20,968.00) scale(0.9274,1.0000) translate(-1.78,0)" font-family="'Liberation Sans', sans-serif" font-size="35.5" fill="#0d0d0d" stroke="#0d0d0d" stroke-width="0.5">2.5</text>
<text transform="translate(1949.60,968.00) scale(0.9254,1.0000) translate(-1.42,0)" font-family="'Liberation Sans', sans-serif" font-size="35.5" fill="#0d0d0d" stroke="#0d0d0d" stroke-width="0.5">5.0</text>
<text y="1015.40" font-family="'Liberation Sans', sans-serif" font-size="34.4" fill="#0d0d0d" stroke="#0d0d0d" stroke-width="0.5"><tspan x="1583.21" textLength="214.49" lengthAdjust="spacingAndGlyphs">bootstrapped</tspan> <tspan x="1807.20" textLength="121.28" lengthAdjust="spacingAndGlyphs">weights</tspan></text>
</svg>
</body></html>
